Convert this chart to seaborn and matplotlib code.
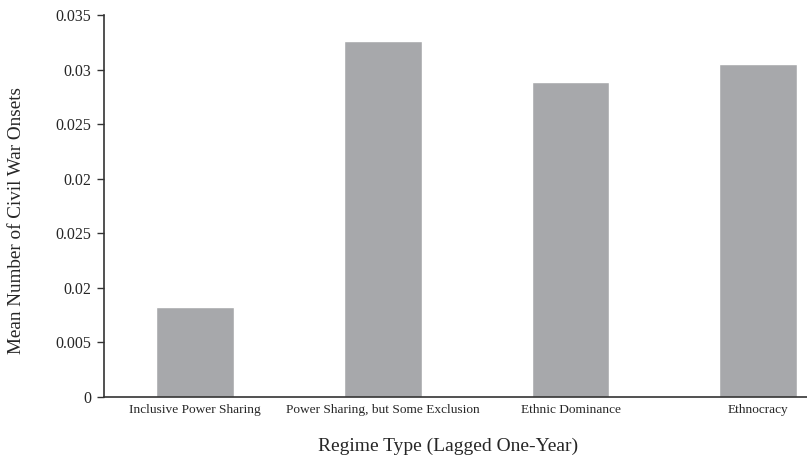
import matplotlib
matplotlib.use("Agg")
import matplotlib.pyplot as plt
import seaborn as sns
import pandas as pd

categories = ["Inclusive Power Sharing", "Power Sharing, but Some Exclusion",
              "Ethnic Dominance", "Ethnocracy"]
values = [0.00825, 0.0326, 0.0289, 0.0305]
ytick_values = [0, 0.005, 0.01, 0.015, 0.02, 0.025, 0.03, 0.035]
ytick_labels = ["0", "0.005", "0.02", "0.025", "0.02", "0.025", "0.03", "0.035"]

sns.set_style("ticks")
plt.rcParams["font.family"] = ["Liberation Serif", "DejaVu Serif"]

df = pd.DataFrame({"cat": categories, "val": values})

fig = plt.figure(figsize=(8.07, 4.59), dpi=100)
ax = fig.add_axes([0.129, 0.135, 0.871, 0.832])
sns.barplot(data=df, x="cat", y="val", color="#a7a8ab", saturation=1,
            width=0.415, ax=ax)

ax.set_xlim(-0.485, 3.26)
ax.set_ylim(0, 0.035)
ax.set_yticks(ytick_values)
ax.set_yticklabels(ytick_labels, fontsize=11.5)
ax.tick_params(axis="y", length=5, width=1, color="#333333", pad=4)
ax.tick_params(axis="x", length=0, labelsize=9.6, pad=5)
for s in ["top", "right"]:
    ax.spines[s].set_visible(False)
for s in ["left", "bottom"]:
    ax.spines[s].set_linewidth(1.2)
    ax.spines[s].set_color("#333333")

ax.set_xlabel("Regime Type (Lagged One-Year)", fontsize=14)
ax.set_ylabel("Mean Number of Civil War Onsets", fontsize=13.8)
ax.xaxis.label.set_va("center")
ax.yaxis.label.set_va("center")
ax.xaxis.set_label_coords(0.489, -0.128)
ax.yaxis.set_label_coords(-0.124, 0.463)

fig.savefig("out.png", dpi=100)
